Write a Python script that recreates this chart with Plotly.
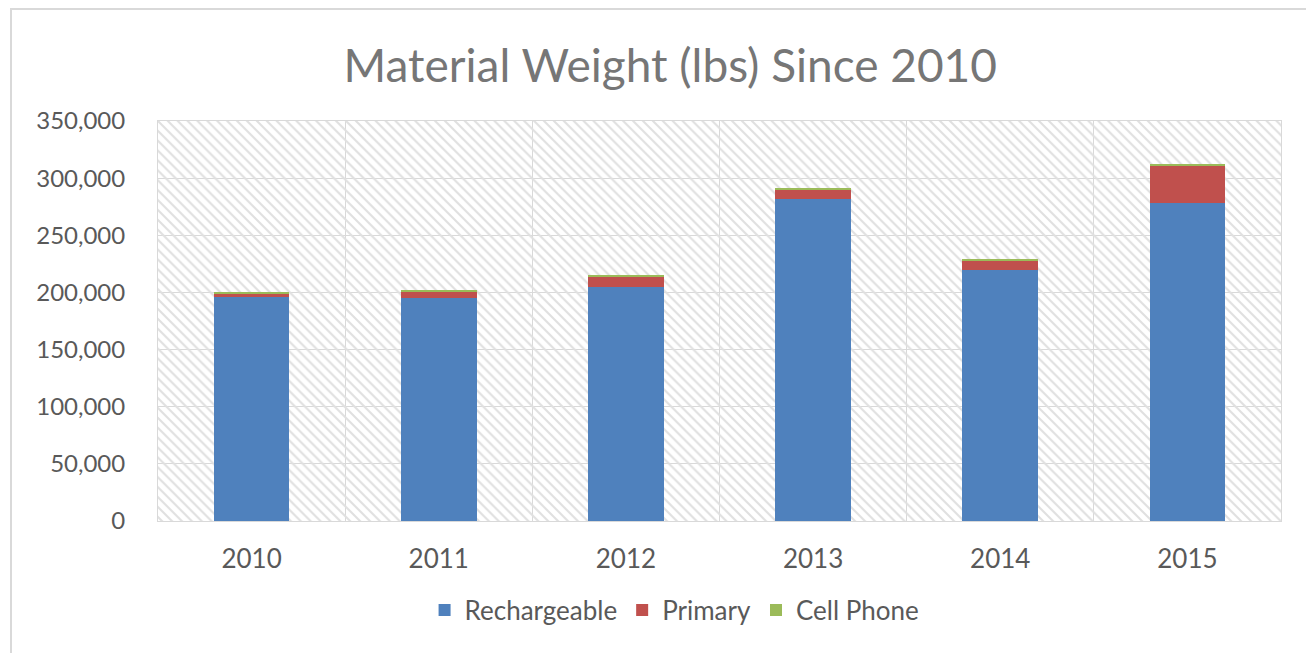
import plotly.graph_objects as go

years = ["2010", "2011", "2012", "2013", "2014", "2015"]
rechargeable = [196000, 195000, 205000, 281500, 219600, 278000]
primary = [3200, 5700, 9100, 8400, 8200, 33200]
cell_phone = [1000, 1200, 1200, 1200, 1200, 1500]

y_max = 350000
y_ticks = [0, 50000, 100000, 150000, 200000, 250000, 300000, 350000]

FONT = "Lato"
TXT = "#595959"
GRID = "#d9d9d9"

fig = go.Figure()

# hatched plot-area background (decoration) on the base axis
fig.add_trace(go.Bar(
    x=[len(years) / 2], y=[y_max], width=[len(years)],
    xaxis="x", yaxis="y",
    marker=dict(color="rgba(0,0,0,0)", line=dict(width=0),
                pattern=dict(shape="\\", fgcolor="#e0e0e0", bgcolor="rgba(0,0,0,0)",
                             size=7, solidity=0.3, fillmode="replace")),
    showlegend=False, hoverinfo="skip",
))

series = [("Rechargeable", rechargeable, "#4f81bd"),
          ("Primary", primary, "#c0504d"),
          ("Cell Phone", cell_phone, "#9bbb59")]
for name, vals, col in series:
    fig.add_trace(go.Bar(
        x=years, y=vals, name=name, xaxis="x2", yaxis="y",
        marker=dict(color=col, line=dict(width=0)),
    ))

fig.update_layout(
    width=1314, height=653,
    margin=dict(l=150, r=41, t=113, b=140),
    paper_bgcolor="white", plot_bgcolor="white",
    barmode="stack", bargap=0.595,
    font=dict(family=FONT, color=TXT, size=25),
    title=dict(text="Material Weight (lbs) Since 2010", x=0.504, xanchor="center",
               y=1 - 58 / 653, yanchor="middle",
               font=dict(family=FONT, size=46, color="#767676")),
    xaxis=dict(range=[0, len(years)], showgrid=True, gridcolor=GRID, gridwidth=1,
               dtick=1, tick0=0, showticklabels=False, zeroline=False,
               showline=True, mirror=True, linecolor=GRID, linewidth=1, ticks=""),
    xaxis2=dict(overlaying="x", type="category", range=[-0.5, len(years) - 0.5],
                showgrid=False, zeroline=False, showline=False, ticks="",
                ticklabelstandoff=20, tickfont=dict(size=26, color=TXT)),
    yaxis=dict(range=[0, y_max], tickvals=y_ticks, tickformat=",d",
               showgrid=True, gridcolor=GRID, gridwidth=1, zeroline=False,
               showline=True, mirror=True, linecolor=GRID, linewidth=1, ticks="",
               ticklabelstandoff=27, tickfont=dict(size=24, color=TXT)),
    legend=dict(orientation="h", x=0.46, xanchor="center", y=-0.2225, yanchor="middle",
                traceorder="normal", font=dict(size=26, color=TXT),
                itemwidth=30, tracegroupgap=0),
    showlegend=True,
    shapes=[dict(type="rect", xref="paper", yref="paper",
                 x0=(11 - 158) / 1123, x1=(1330 - 158) / 1123,
                 y0=(521 - 680) / 400, y1=(521 - 9) / 400,
                 line=dict(color="#d9d9d9", width=2), fillcolor="rgba(0,0,0,0)",
                 layer="below")],
)

fig.write_html("out.html")
